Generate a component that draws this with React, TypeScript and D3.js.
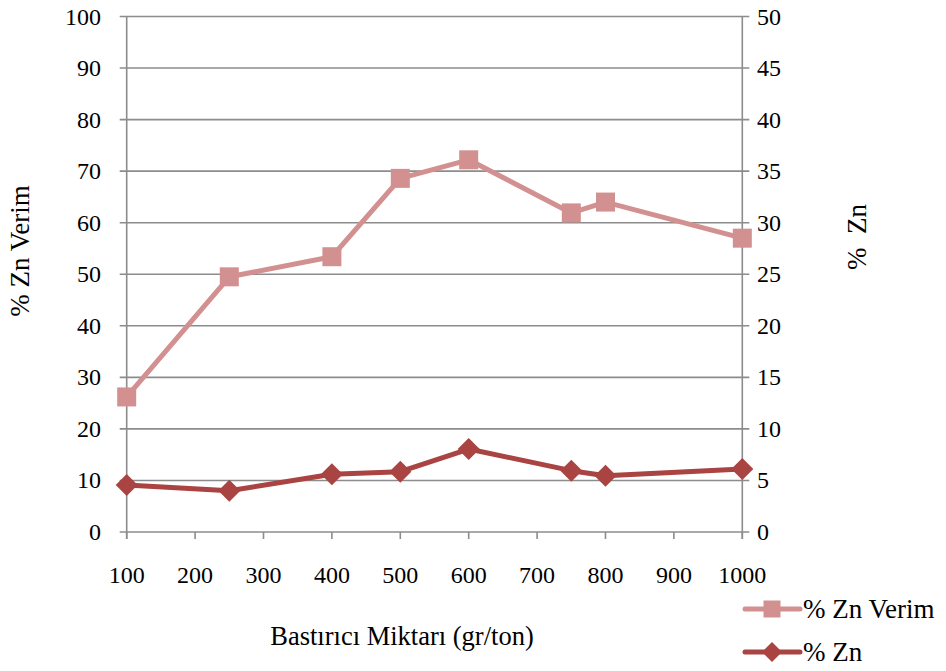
import React from "react";
import * as d3 from "d3";

// Bastırıcı miktarı (gr/ton)
const dosages = [100, 250, 400, 500, 600, 750, 800, 1000];
// % Zn Verim (left axis)
const recovery = [26.2, 49.5, 53.4, 68.6, 72.2, 61.9, 64.0, 57.0];
// % Zn (right axis)
const grade = [4.55, 4.0, 5.6, 5.85, 8.05, 5.95, 5.45, 6.1];

const xTicks = [100, 200, 300, 400, 500, 600, 700, 800, 900, 1000];
const leftTicks = [0, 10, 20, 30, 40, 50, 60, 70, 80, 90, 100];
const rightTicks = [0, 5, 10, 15, 20, 25, 30, 35, 40, 45, 50];

const seriesNames = ["% Zn Verim", "% Zn"];

const W = 946;
const H = 671;
const FONT = "Liberation Serif";
const GRID = "#8c8c8c";
const C_REC = "#d39090";
const C_GRADE = "#a94442";

const txt = (size: number): React.CSSProperties => ({
  fontFamily: FONT,
  fontSize: size + "px",
  fill: "#000",
});

export default function App() {
  const x = d3.scaleLinear().domain([100, 1000]).range([126.7, 742.3]);
  const yL = d3.scaleLinear().domain([0, 100]).range([532, 16.5]);
  const yR = d3.scaleLinear().domain([0, 50]).range([532, 16.5]);

  const recLine = d3
    .line<number>()
    .x((_, i) => x(dosages[i]))
    .y((d) => yL(d));
  const gradeLine = d3
    .line<number>()
    .x((_, i) => x(dosages[i]))
    .y((d) => yR(d));

  const sq = 19;
  const dia = 11;
  const diamond = (cx: number, cy: number, r: number) =>
    `M${cx},${cy - r}L${cx + r},${cy}L${cx},${cy + r}L${cx - r},${cy}Z`;

  const x0 = x.range()[0];
  const x1 = x.range()[1];

  return (
    <svg
      width={W}
      height={H}
      style={{ position: "absolute", left: 0, top: 0, background: "#fff" }}
    >
      {/* horizontal gridlines with ticks on both sides */}
      {leftTicks.map((t) => (
        <line
          key={"g" + t}
          x1={x0 - 7}
          x2={x1 + 7}
          y1={yL(t)}
          y2={yL(t)}
          stroke={GRID}
          strokeWidth={1.6}
        />
      ))}
      {/* vertical axes */}
      <line x1={x0} x2={x0} y1={yL(100)} y2={yL(0) + 7} stroke={GRID} strokeWidth={1.6} />
      <line x1={x1} x2={x1} y1={yL(100)} y2={yL(0) + 7} stroke={GRID} strokeWidth={1.6} />
      {/* x ticks */}
      {xTicks.map((t) => (
        <line
          key={"xt" + t}
          x1={x(t)}
          x2={x(t)}
          y1={yL(0)}
          y2={yL(0) + 7}
          stroke={GRID}
          strokeWidth={1.6}
        />
      ))}

      {/* left tick labels */}
      {leftTicks.map((t) => (
        <text key={"lt" + t} x={101} y={yL(t) + 8} textAnchor="end" style={txt(24)}>
          {String(t)}
        </text>
      ))}
      {/* right tick labels */}
      {rightTicks.map((t) => (
        <text key={"rt" + t} x={757} y={yR(t) + 8} textAnchor="start" style={txt(24)}>
          {String(t)}
        </text>
      ))}
      {/* x tick labels */}
      {xTicks.map((t) => (
        <text key={"xl" + t} x={x(t)} y={583} textAnchor="middle" style={txt(24)}>
          {String(t)}
        </text>
      ))}

      {/* axis titles */}
      <text transform="translate(29,251) rotate(-90)" textAnchor="middle" style={txt(27)}>
        % Zn Verim
      </text>
      <text
        transform="translate(866,237) rotate(-90)"
        textAnchor="middle"
        style={{ ...txt(27), whiteSpace: "pre" }}
      >
        {"%  Zn"}
      </text>
      <text x={402} y={645} textAnchor="middle" style={txt(26.5)}>
        Bastırıcı Miktarı (gr/ton)
      </text>

      {/* % Zn Verim series */}
      <path d={recLine(recovery) || ""} fill="none" stroke={C_REC} strokeWidth={5} strokeLinejoin="round" />
      {recovery.map((v, i) => (
        <rect
          key={"r" + i}
          x={x(dosages[i]) - sq / 2}
          y={yL(v) - sq / 2}
          width={sq}
          height={sq}
          fill={C_REC}
        />
      ))}

      {/* % Zn series */}
      <path d={gradeLine(grade) || ""} fill="none" stroke={C_GRADE} strokeWidth={5} strokeLinejoin="round" />
      {grade.map((v, i) => (
        <path key={"d" + i} d={diamond(x(dosages[i]), yR(v), dia)} fill={C_GRADE} />
      ))}

      {/* legend */}
      <g>
        <line x1={745} x2={800} y1={609} y2={609} stroke={C_REC} strokeWidth={5} strokeLinecap="round" />
        <rect x={772 - 8.5} y={609 - 8.5} width={17} height={17} fill={C_REC} />
        <text x={803} y={618} style={txt(27)}>
          {seriesNames[0]}
        </text>
        <line x1={745} x2={800} y1={652} y2={652} stroke={C_GRADE} strokeWidth={5} strokeLinecap="round" />
        <path d={diamond(772, 652, 10)} fill={C_GRADE} />
        <text x={803} y={661} style={txt(27)}>
          {seriesNames[1]}
        </text>
      </g>
    </svg>
  );
}
